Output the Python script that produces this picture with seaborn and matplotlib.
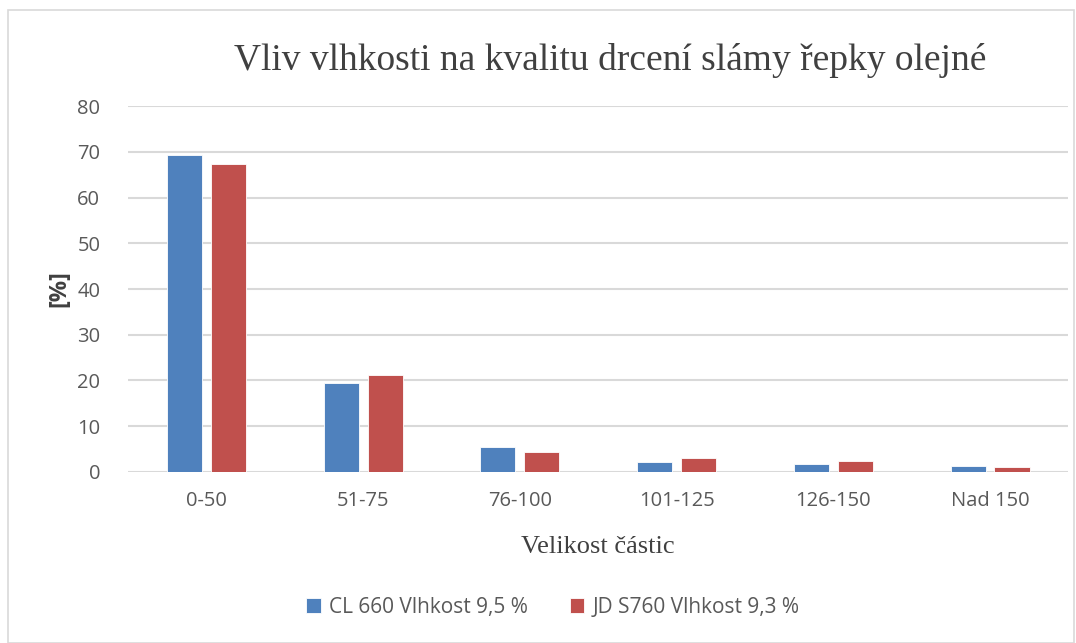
import pandas as pd
import seaborn as sns
import matplotlib.pyplot as plt
from matplotlib.patches import Rectangle

categories = ["0-50", "51-75", "76-100", "101-125", "126-150", "Nad 150"]
cl660 = [69.2, 19.5, 5.5, 2.2, 1.8, 1.25]
jds760 = [67.3, 21.3, 4.3, 3.1, 2.3, 1.0]
series = ["CL 660 Vlhkost 9,5 %", "JD S760 Vlhkost 9,3 %"]

df = pd.DataFrame({
    "kat": categories * 2,
    "val": cl660 + jds760,
    "serie": [series[0]] * len(categories) + [series[1]] * len(categories),
})

sns.set_style("white")
plt.rcParams['font.family'] = ['Open Sans', 'DejaVu Sans']

fig = plt.figure(figsize=(10.76, 6.43), dpi=100)
ax = fig.add_axes([0.119, 0.266, 0.874, 0.569])

sns.barplot(data=df, x="kat", y="val", hue="serie", order=categories,
            palette=["#4f81bd", "#c0504d"], saturation=1, width=0.56, gap=0.2,
            edgecolor="white", linewidth=0.6, ax=ax, zorder=3)

ax.set_ylim(0, 80)
ax.set_yticks(range(0, 81, 10))
ax.grid(axis="y", color="#d9d9d9", linewidth=1.5, zorder=0)
ax.set_axisbelow(True)
for s in ax.spines.values():
    s.set_visible(False)
ax.tick_params(axis="both", length=0, labelsize=14.5, colors="#595959")
ax.tick_params(axis="y", pad=20)
ax.tick_params(axis="x", pad=14)

ax.set_ylabel("[%]", fontsize=17, fontweight="bold", color="#404040", labelpad=4)
ax.set_xlabel("Velikost částic", fontsize=19, family="Liberation Serif",
              color="#404040", labelpad=18)
ax.set_title("Vliv vlhkosti na kvalitu drcení slámy řepky olejné", fontsize=27,
             family="Liberation Serif", color="#404040", pad=26, x=0.513)

leg = ax.legend(loc="upper center", bbox_to_anchor=(0.452, -0.29), ncol=2,
                frameon=False, fontsize=15, handlelength=0.7, handleheight=0.7,
                handletextpad=0.4, columnspacing=2.0)
for t in leg.get_texts():
    t.set_color("#595959")

fig.patches.append(Rectangle((8 / 1076, 0), 1 - 8 / 1076 - 0.002, 1 - 10 / 643,
                             transform=fig.transFigure, fill=False,
                             edgecolor="#d9d9d9", linewidth=1.2))

fig.savefig("out.png", dpi=100)
